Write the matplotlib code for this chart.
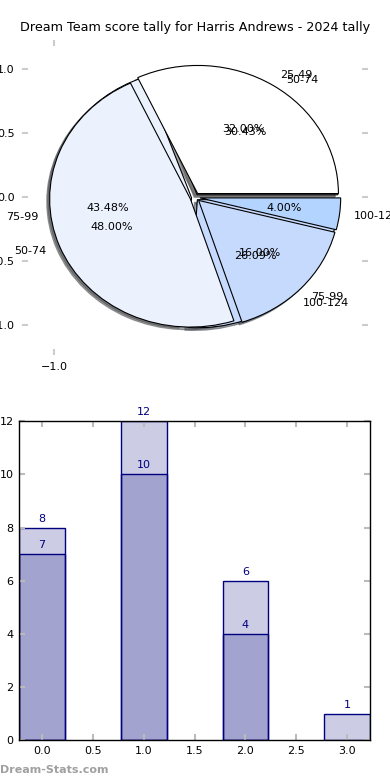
import matplotlib
matplotlib.use('Agg')
import matplotlib.pyplot as plt

# pie data (both tallies share the same axes)
labels_a = ['50-74', '75-99', '100-124']
values_a = [7, 10, 6]
labels_b = ['25-49', '50-74', '75-99', '100-124']
values_b = [8, 12, 4, 1]
pie_colors = ['#FFFFFF', '#EBF2FE', '#C6DAFE', '#B3D4FF']

# bar data
bar_x = [0, 1, 2, 3]
bar_light = [8, 12, 6, 1]
bar_dark_x = [0, 1, 2]
bar_dark = [7, 10, 4]

plt.rcParams['font.family'] = 'DejaVu Sans'
fig = plt.figure(figsize=(3.9, 7.8), dpi=100)

ax1 = fig.add_axes([0.056, 0.545, 0.888, 0.404])
ax1.pie(values_a, labels=labels_a, colors=pie_colors[:3], explode=[0.025] * 3,
        autopct='%.2f%%', shadow={'ox': -0.015, 'oy': -0.015},
        wedgeprops={'edgecolor': 'black', 'linewidth': 0.8},
        textprops={'fontsize': 8})
ax1.pie(values_b, labels=labels_b, colors=pie_colors, explode=[0.035] * 4,
        autopct='%.2f%%', shadow={'ox': -0.015, 'oy': -0.015},
        wedgeprops={'edgecolor': 'black', 'linewidth': 0.8},
        textprops={'fontsize': 8})
ax1.set_aspect('auto')
ax1.set_xlim(-1.23, 1.23)
ax1.set_ylim(-1.23, 1.23)
for s in ax1.spines.values():
    s.set_visible(False)
ax1.set_xticks([-1.0])
ax1.set_xticklabels(['\u22121.0'])
ax1.set_yticks([-1.0, -0.5, 0.0, 0.5, 1.0])
ax1.set_yticklabels(['\u22121.0', '\u22120.5', '0.0', '0.5', '1.0'])
ax1.tick_params(direction='in', length=4, width=1.5, color='#cccccc',
                labelsize=8, top=True, right=True, pad=5)
ax1.set_title('Dream Team score tally for Harris Andrews - 2024 tally',
              fontsize=9.2, pad=6)

ax2 = fig.add_axes([0.049, 0.051, 0.9, 0.409])
ax2.bar(bar_x, bar_light, width=0.45, align='center',
        facecolor=(0, 0, 0.5, 0.2), edgecolor='navy', linewidth=1)
ax2.bar(bar_dark_x, bar_dark, width=0.45, align='center',
        facecolor=(0, 0, 0.5, 0.2), edgecolor='navy', linewidth=1)
for x, v in zip(bar_x, bar_light):
    ax2.text(x, v + 0.15, str(v), ha='center', va='bottom', color='navy', fontsize=8)
for x, v in zip(bar_dark_x, bar_dark):
    ax2.text(x, v + 0.15, str(v), ha='center', va='bottom', color='navy', fontsize=8)
ax2.set_xlim(-0.225, 3.225)
ax2.set_ylim(0, 12)
ax2.set_xticks([0.0, 0.5, 1.0, 1.5, 2.0, 2.5, 3.0])
ax2.set_yticks([0, 2, 4, 6, 8, 10, 12])
ax2.tick_params(direction='in', length=4, width=1.5, color='#bbbbbb',
                labelsize=8, top=True, right=True, pad=4)
for s in ax2.spines.values():
    s.set_linewidth(1)

fig.text(0.0, 0.013, 'Dream-Stats.com', color='#a0a0a0', fontsize=8,
         fontweight='bold', ha='left', va='center')

fig.savefig('out.png', dpi=100)
